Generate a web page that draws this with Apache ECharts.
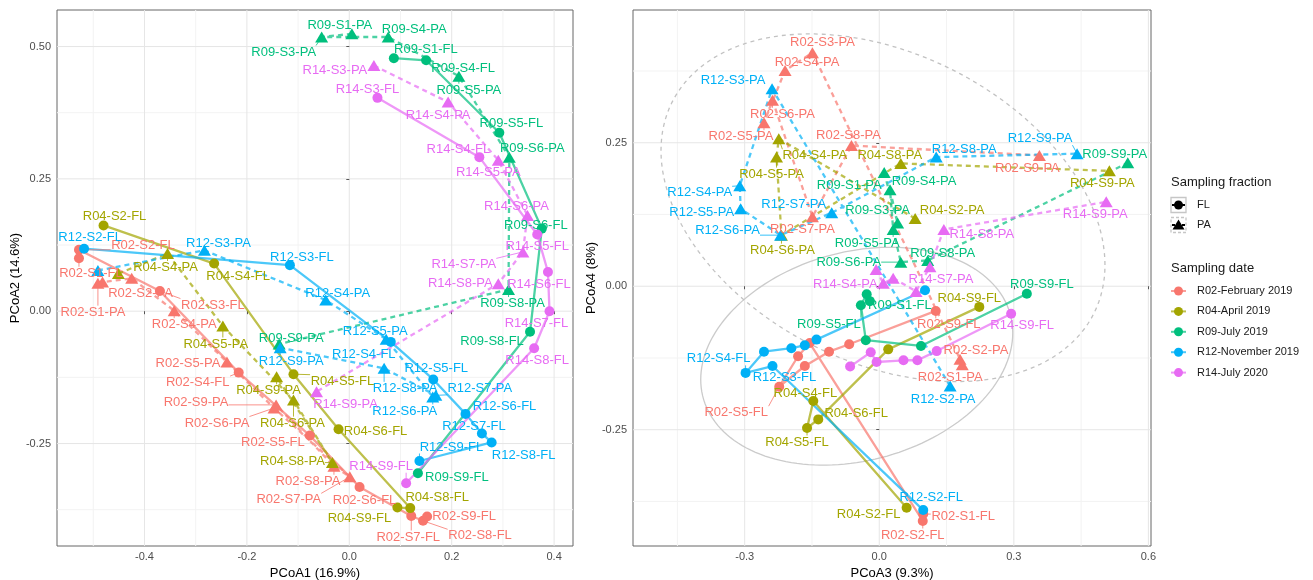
<!DOCTYPE html>
<html><head><meta charset="utf-8">
<script src="https://cdn.jsdelivr.net/npm/echarts@6/dist/echarts.min.js"></script>
<style>html,body{margin:0;padding:0;background:#fff}#c{width:1313px;height:580px}</style>
</head><body><div id="c"></div>
<script>
// ---------------- data ----------------
const groups = ['R02', 'R04', 'R09', 'R12', 'R14'];
const groupLabels = ['R02-February 2019', 'R04-April 2019', 'R09-July 2019', 'R12-November 2019', 'R14-July 2020'];
const fractions = ['FL', 'PA'];

// Panel 1 : [sample, PCoA1, PCoA2]
const a12_R02_FL = [['S1',-0.528,0.100],['S2',-0.528,0.116],['S3',-0.370,0.038],['S4',-0.216,-0.116],['S5',-0.077,-0.235],['S6',0.020,-0.332],['S7',0.121,-0.387],['S8',0.144,-0.396],['S9',0.152,-0.388]];
const a12_R02_PA = [['S1',-0.491,0.053],['S2',-0.482,0.055],['S3',-0.425,0.062],['S4',-0.342,0.001],['S5',-0.239,-0.096],['S6',-0.147,-0.183],['S7',0.001,-0.313],['S8',-0.030,-0.293],['S9',-0.143,-0.177]];
const a12_R04_FL = [['S2',-0.480,0.162],['S4',-0.264,0.090],['S5',-0.109,-0.119],['S6',-0.021,-0.223],['S8',0.119,-0.372],['S9',0.094,-0.371]];
const a12_R04_PA = [['S2',-0.451,0.071],['S4',-0.355,0.109],['S5',-0.247,-0.028],['S6',-0.109,-0.168],['S8',-0.033,-0.286],['S9',-0.142,-0.124]];
const a12_R09_FL = [['S1',0.087,0.478],['S4',0.150,0.474],['S5',0.293,0.337],['S6',0.376,0.156],['S8',0.353,-0.039],['S9',0.134,-0.306]];
const a12_R09_PA = [['S1',0.005,0.524],['S3',-0.054,0.518],['S4',0.076,0.518],['S5',0.214,0.444],['S6',0.3125,0.291],['S8',0.311,0.041],['S9',-0.137,-0.062]];
const a12_R12_FL = [['S2',-0.518,0.118],['S3',-0.116,0.087],['S4',0.081,-0.058],['S5',0.164,-0.129],['S6',0.227,-0.194],['S7',0.259,-0.231],['S8',0.278,-0.248],['S9',0.137,-0.283]];
const a12_R12_PA = [['S2',-0.491,0.077],['S3',-0.283,0.115],['S4',-0.046,0.021],['S5',0.072,-0.053],['S6',0.163,-0.162],['S7',0.169,-0.159],['S8',0.068,-0.108],['S9',-0.135,-0.069]];
const a12_R14_FL = [['S3',0.055,0.403],['S4',0.254,0.291],['S5',0.367,0.145],['S6',0.388,0.074],['S7',0.391,0.000],['S8',0.361,-0.070],['S9',0.111,-0.325]];
const a12_R14_PA = [['S3',0.048,0.464],['S4',0.193,0.395],['S5',0.291,0.285],['S6',0.348,0.181],['S7',0.339,0.112],['S8',0.291,0.052],['S9',-0.064,-0.152]];

// Panel 2 : [sample, PCoA3, PCoA4]
const a34_R02_FL = [['S1',0.098,-0.397],['S2',0.097,-0.409],['S3',-0.155,-0.099],['S4',-0.181,-0.122],['S5',-0.223,-0.175],['S6',-0.166,-0.139],['S7',-0.112,-0.114],['S8',-0.067,-0.101],['S9',0.126,-0.043]];
const a34_R02_PA = [['S1',0.185,-0.137],['S2',0.180,-0.127],['S3',-0.149,0.407],['S4',-0.210,0.376],['S5',-0.257,0.285],['S6',-0.238,0.324],['S7',-0.149,0.121],['S8',-0.062,0.245],['S9',0.357,0.228]];
const a34_R04_FL = [['S2',0.061,-0.386],['S4',-0.147,-0.200],['S5',-0.161,-0.247],['S6',-0.136,-0.232],['S8',0.020,-0.110],['S9',0.223,-0.036]];
const a34_R04_PA = [['S2',0.080,0.118],['S4',-0.224,0.257],['S5',-0.229,0.225],['S6',-0.218,0.089],['S8',0.048,0.214],['S9',0.513,0.201]];
const a34_R09_FL = [['S1',-0.021,-0.026],['S4',-0.028,-0.014],['S5',-0.041,-0.033],['S6',-0.030,-0.094],['S8',0.093,-0.104],['S9',0.329,-0.013]];
const a34_R09_PA = [['S1',0.011,0.198],['S3',0.041,0.110],['S4',0.024,0.168],['S5',0.031,0.099],['S6',0.048,0.042],['S8',0.108,0.045],['S9',0.554,0.215]];
const a34_R12_FL = [['S2',0.098,-0.390],['S3',-0.238,-0.139],['S4',-0.298,-0.151],['S5',-0.257,-0.114],['S6',-0.196,-0.108],['S7',-0.166,-0.103],['S8',-0.140,-0.093],['S9',0.102,-0.007]];
const a34_R12_PA = [['S2',0.158,-0.174],['S3',-0.239,0.344],['S4',-0.311,0.175],['S5',-0.309,0.135],['S6',-0.220,0.089],['S7',-0.106,0.128],['S8',0.127,0.225],['S9',0.441,0.231]];
const a34_R14_FL = [['S3',-0.065,-0.140],['S4',-0.019,-0.115],['S5',-0.006,-0.132],['S6',0.054,-0.129],['S7',0.085,-0.129],['S8',0.128,-0.113],['S9',0.294,-0.048]];
const a34_R14_PA = [['S3',-0.007,0.029],['S4',0.009,0.005],['S5',0.031,0.014],['S6',0.082,-0.009],['S7',0.113,0.034],['S8',0.144,0.099],['S9',0.506,0.147]];

// stat_ellipse estimates (panel 2): [cx, cy, ux, uy, vx, vy] in data units
const ellipseFL = [-0.0502, -0.1219, 0.3478, 0.0407, 0, 0.1854];
const ellipsePA = [0.0083, 0.1367, 0.4949, -0.0998, 0, 0.2860];

// axes
const xRange12 = [-0.5709, 0.4369], yRange12 = [-0.4436, 0.569];
const xRange34 = [-0.549, 0.6058], yRange34 = [-0.4526, 0.4813];
const xTicks12 = [-0.4, -0.2, 0, 0.2, 0.4], xMinor12 = [-0.5, -0.3, -0.1, 0.1, 0.3];
const yTicks12 = [-0.25, 0, 0.25, 0.5], yMinor12 = [-0.375, -0.125, 0.125, 0.375];
const xTicks34 = [-0.3, 0, 0.3, 0.6], xMinor34 = [-0.45, -0.15, 0.15, 0.45];
const yTicks34 = [-0.25, 0, 0.25], yMinor34 = [-0.375, -0.125, 0.125, 0.375];
const axisTitles = ['PCoA1 (16.9%)', 'PCoA2 (14.6%)', 'PCoA3 (9.3%)', 'PCoA4 (8%)'];

// ---------------- styles / label placement (repel-like offsets in px) ----------------
const colors = ['#F8766D', '#A3A500', '#00BF7D', '#00B0F6', '#E76BF3'];
const FONT = "'Liberation Sans', Arial, sans-serif";
const off12 = {
 'R02-S1-FL':[12,15],'R02-S2-FL':[64,-4],'R02-S3-FL':[53,14],'R02-S4-FL':[-41,10],'R02-S5-FL':[-37,7],'R02-S6-FL':[5,13],'R02-S7-FL':[-3,21],'R02-S8-FL':[57,15],'R02-S9-FL':[37,0],
 'R02-S1-PA':[-5,29],'R02-S2-PA':[38,11],'R02-S4-PA':[10,14],'R02-S5-PA':[-39,1],'R02-S6-PA':[-57,15],'R02-S7-PA':[-61,23],'R02-S8-PA':[-26,15],'R02-S9-PA':[-80,-2],
 'R04-S2-FL':[11,-9],'R04-S4-FL':[24,13],'R04-S5-FL':[49,7],'R04-S6-FL':[37,2],'R04-S8-FL':[27,-11],'R04-S9-FL':[-38,11],
 'R04-S4-PA':[-2,14],'R04-S5-PA':[-7,18],'R04-S6-PA':[-1,23],'R04-S8-PA':[-40,-1],'R04-S9-PA':[-8,14],
 'R09-S1-FL':[32,-9],'R09-S4-FL':[37,8],'R09-S5-FL':[12,-9],'R09-S6-FL':[-6,-3],'R09-S8-FL':[-38,10],'R09-S9-FL':[39,4],
 'R09-S1-PA':[-12,-8],'R09-S3-PA':[-38,15],'R09-S4-PA':[26,-8],'R09-S5-PA':[10,14],'R09-S6-PA':[23,-9],'R09-S8-PA':[4,14],'R09-S9-PA':[12,-6],
 'R12-S2-FL':[6,-11],'R12-S3-FL':[12,-8],'R12-S4-FL':[-27,13],'R12-S5-FL':[3,-11],'R12-S6-FL':[39,-7],'R12-S7-FL':[-8,-7],'R12-S8-FL':[32,13],'R12-S9-FL':[32,-14],
 'R12-S3-PA':[14,-7],'R12-S4-PA':[12,-7],'R12-S5-PA':[-11,-8],'R12-S6-PA':[-28,14],'R12-S7-PA':[44,-7],'R12-S8-PA':[21,20],'R12-S9-PA':[11,14],
 'R14-S3-FL':[-10,-8],'R14-S4-FL':[-21,-8],'R14-S5-FL':[0,12],'R14-S6-FL':[-9,12],'R14-S7-FL':[-13,12],'R14-S8-FL':[3,12],'R14-S9-FL':[-25,-17],
 'R14-S3-PA':[-39,5],'R14-S4-PA':[-10,13],'R14-S5-PA':[-10,12],'R14-S6-PA':[-11,-9],'R14-S7-PA':[-59,13],'R14-S8-PA':[-38,0],'R14-S9-PA':[29,13]
};
const off34 = {
 'R02-S1-FL':[40,2],'R02-S2-FL':[-10,14],'R02-S5-FL':[-43,26],'R02-S9-FL':[13,14],
 'R02-S1-PA':[-12,13],'R02-S2-PA':[16,-9],'R02-S3-PA':[10,-10],'R02-S4-PA':[22,-8],'R02-S5-PA':[-23,14],'R02-S6-PA':[10,14],'R02-S7-PA':[-10,13],'R02-S8-PA':[-3,-10],'R02-S9-PA':[-12,13],
 'R04-S2-FL':[-38,7],'R04-S4-FL':[-8,-8],'R04-S5-FL':[-10,14],'R04-S6-FL':[38,-6],'R04-S9-FL':[-10,-8],
 'R04-S2-PA':[37,-8],'R04-S4-PA':[36,17],'R04-S5-PA':[-5,17],'R04-S6-PA':[1,15],'R04-S8-PA':[-11,-8],'R04-S9-PA':[-7,13],
 'R09-S1-FL':[30,4],'R09-S5-FL':[-32,19],'R09-S9-FL':[15,-9],
 'R09-S1-PA':[-35,13],'R09-S3-PA':[-20,-13],'R09-S4-PA':[34,-8],'R09-S5-PA':[-26,14],'R09-S6-PA':[-52,0],'R09-S8-PA':[15,-7],'R09-S9-PA':[-13,-8],
 'R12-S2-FL':[8,-13],'R12-S3-FL':[12,11],'R12-S4-FL':[-27,-14],
 'R12-S2-PA':[-7,13],'R12-S3-PA':[-39,-8],'R12-S4-PA':[-40,7],'R12-S5-PA':[-39,4],'R12-S6-PA':[-53,-5],'R12-S7-PA':[-38,-8],'R12-S8-PA':[28,-8],'R12-S9-PA':[-37,-15],
 'R14-S9-FL':[11,12],
 'R14-S4-PA':[-38,1],'R14-S7-PA':[11,13],'R14-S8-PA':[38,5],'R14-S9-PA':[-11,13]
};

const panels = [
  {data:{R02:{FL:a12_R02_FL,PA:a12_R02_PA},R04:{FL:a12_R04_FL,PA:a12_R04_PA},R09:{FL:a12_R09_FL,PA:a12_R09_PA},R12:{FL:a12_R12_FL,PA:a12_R12_PA},R14:{FL:a12_R14_FL,PA:a12_R14_PA}},
   offs:off12, xr:xRange12, yr:yRange12, xt:xTicks12, xm:xMinor12, yt:yTicks12, ym:yMinor12, xd:1, yd:2, xn:axisTitles[0], yn:axisTitles[1], yGap:34},
  {data:{R02:{FL:a34_R02_FL,PA:a34_R02_PA},R04:{FL:a34_R04_FL,PA:a34_R04_PA},R09:{FL:a34_R09_FL,PA:a34_R09_PA},R12:{FL:a34_R12_FL,PA:a34_R12_PA},R14:{FL:a34_R14_FL,PA:a34_R14_PA}},
   offs:off34, xr:xRange34, yr:yRange34, xt:xTicks34, xm:xMinor34, yt:yTicks34, ym:yMinor34, xd:1, yd:2, xn:axisTitles[2], yn:axisTitles[3], yGap:29}
];

// ---------------- build ----------------
const series = [];
const xAxes = [], yAxes = [];
const grids = [
  {left:57, top:10, width:516, height:536},
  {left:633, top:10, width:518, height:536}
];

panels.forEach((pn, pi) => {
  // grid lines
  series.push({
    type:'custom', xAxisIndex:pi, yAxisIndex:pi, z:0, silent:true, data:[[pn.xr[0], pn.yr[0]]],
    renderItem:(params, api) => {
      const ch = [];
      const mk = (p1, p2, c, w) => ch.push({type:'line', shape:{x1:p1[0],y1:p1[1],x2:p2[0],y2:p2[1]}, style:{stroke:c, lineWidth:w}});
      pn.xm.forEach(v => mk(api.coord([v, pn.yr[0]]), api.coord([v, pn.yr[1]]), '#f3f3f3', 1));
      pn.ym.forEach(v => mk(api.coord([pn.xr[0], v]), api.coord([pn.xr[1], v]), '#f3f3f3', 1));
      pn.xt.forEach(v => mk(api.coord([v, pn.yr[0]]), api.coord([v, pn.yr[1]]), '#e6e6e6', 1));
      pn.yt.forEach(v => mk(api.coord([pn.xr[0], v]), api.coord([pn.xr[1], v]), '#e6e6e6', 1));
      return {type:'group', children:ch};
    }
  });
  if (pi === 1) {
    [[ellipseFL, null], [ellipsePA, [4, 4]]].forEach(([e, dash]) => {
      series.push({
        type:'custom', xAxisIndex:1, yAxisIndex:1, z:1, silent:true, data:[[e[0], e[1]]],
        renderItem:(params, api) => {
          const pts = [];
          for (let i = 0; i <= 160; i++) {
            const t = i / 160 * 2 * Math.PI;
            pts.push(api.coord([e[0] + e[2]*Math.cos(t) + e[4]*Math.sin(t), e[1] + e[3]*Math.cos(t) + e[5]*Math.sin(t)]));
          }
          return {type:'polyline', shape:{points:pts}, style:{stroke: dash ? '#c2c2c2' : '#cbcbcb', lineWidth:1.3, fill:null, lineDash:dash}};
        }
      });
    });
  }
  const leaders = [];
  groups.forEach((g, gi) => {
    fractions.forEach(f => {
      const arr = pn.data[g][f];
      series.push({
        type:'line', xAxisIndex:pi, yAxisIndex:pi, z:2, silent:true, symbol:'none',
        data: arr.map(d => [d[pn.xd], d[pn.yd]]),
        lineStyle:{color:colors[gi], width:2.3, opacity:0.7, type: f === 'FL' ? 'solid' : [5, 4]}
      });
      series.push({
        type:'scatter', xAxisIndex:pi, yAxisIndex:pi, z:4, silent:true,
        symbol: f === 'FL' ? 'circle' : 'triangle',
        symbolSize: f === 'FL' ? 10 : [13, 11],
        itemStyle:{color:colors[gi], opacity:1},
        label:{show:false, position:'inside', color:colors[gi], fontSize:13, fontFamily:FONT, formatter:p => p.name},
        data: arr.map(d => {
          const name = g + '-' + d[0] + '-' + f;
          const o = pn.offs[name];
          if (o) leaders.push([d[pn.xd], d[pn.yd], o[0], o[1], name.length * 3.6, gi]);
          return {name, value:[d[pn.xd], d[pn.yd]], label: o ? {show:true, offset:o} : {show:false}};
        })
      });
    });
  });
  series.push({
    type:'custom', xAxisIndex:pi, yAxisIndex:pi, z:3, silent:true, data:leaders,
    renderItem:(params, api) => {
      const p = api.coord([api.value(0), api.value(1)]);
      const cx = p[0] + api.value(2), cy = p[1] + api.value(3), hw = api.value(4), hh = 6.5;
      const nx = Math.max(cx - hw, Math.min(p[0], cx + hw));
      const ny = Math.max(cy - hh, Math.min(p[1], cy + hh));
      const d = Math.hypot(nx - p[0], ny - p[1]);
      if (d < 7.5) return {type:'group', children:[]};
      return {type:'line', shape:{x1:p[0], y1:p[1], x2:nx, y2:ny}, style:{stroke:colors[api.value(5)], lineWidth:0.8}};
    }
  });

  xAxes.push({
    gridIndex:pi, type:'value', min:pn.xr[0], max:pn.xr[1],
    splitLine:{show:false}, axisLine:{show:false},
    axisTick:{show:true, length:3, customValues:pn.xt, lineStyle:{color:'#555', width:1}},
    axisLabel:{customValues:pn.xt, formatter:v => v.toFixed(1), color:'#4d4d4d', fontSize:11, margin:5, fontFamily:FONT},
    name:pn.xn, nameLocation:'middle', nameGap:18, nameTextStyle:{fontSize:13, color:'#000', fontFamily:FONT}
  });
  yAxes.push({
    gridIndex:pi, type:'value', min:pn.yr[0], max:pn.yr[1],
    splitLine:{show:false}, axisLine:{show:false},
    axisTick:{show:true, length:3, customValues:pn.yt, lineStyle:{color:'#555', width:1}},
    axisLabel:{customValues:pn.yt, formatter:v => v.toFixed(2), color:'#4d4d4d', fontSize:11, margin:6, fontFamily:FONT},
    name:pn.yn, nameLocation:'middle', nameGap:pn.yGap, nameTextStyle:{fontSize:13, color:'#000', fontFamily:FONT}
  });
});

// ---------------- legend (graphic) ----------------
const gEls = [];
const txt = (x, y, s, size) => gEls.push({type:'text', x, y, z:10, style:{text:s, fill:'#1a1a1a', font:size + 'px ' + FONT, textAlign:'left', align:'left', textVerticalAlign:'middle', verticalAlign:'middle'}});
txt(1171, 182, 'Sampling fraction', 13);
fractions.forEach((f, i) => {
  const cy = 205 + i * 20;
  gEls.push({type:'rect', z:10, shape:{x:1171, y:cy - 7.5, width:15, height:15}, style:{fill:'#fff', stroke:'#c6c6c6', lineWidth:1.3, lineDash: f === 'PA' ? [3, 2] : null}});
  gEls.push({type:'line', z:11, shape:{x1:1172, y1:cy, x2:1185, y2:cy}, style:{stroke:'#000', lineWidth:2, lineDash: f === 'PA' ? [3, 2] : null}});
  if (f === 'FL') gEls.push({type:'circle', z:12, shape:{cx:1178.5, cy, r:4.5}, style:{fill:'#000'}});
  else gEls.push({type:'polygon', z:12, shape:{points:[[1178.5, cy - 5.5], [1172.5, cy + 4.5], [1184.5, cy + 4.5]]}, style:{fill:'#000'}});
  txt(1197, cy, f, 11);
});
txt(1171, 268, 'Sampling date', 13);
groupLabels.forEach((lab, i) => {
  const cy = 291 + i * 20.4;
  gEls.push({type:'line', z:11, shape:{x1:1171, y1:cy, x2:1186, y2:cy}, style:{stroke:colors[i], lineWidth:2, opacity:0.7}});
  gEls.push({type:'circle', z:12, shape:{cx:1178.5, cy, r:4.5}, style:{fill:colors[i]}});
  txt(1197, cy, lab, 11);
});

const chart = echarts.init(document.getElementById('c'), null, {renderer:'canvas'});
chart.setOption({
  animation:false,
  backgroundColor:'#fff',
  grid: grids.map(g => Object.assign({show:true, backgroundColor:'#fff', borderColor:'#666', borderWidth:1, containLabel:false, outerBoundsMode:'none'}, g)),
  xAxis:xAxes, yAxis:yAxes,
  series,
  graphic:{elements:gEls}
});
</script>
</body></html>
